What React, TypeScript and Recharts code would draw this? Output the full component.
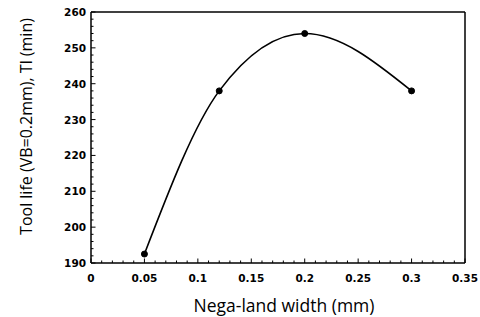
import React from 'react';
import { LineChart, Line, XAxis, YAxis, ReferenceLine } from 'recharts';

const negaLandWidth = [0.05, 0.12, 0.2, 0.3];
const toolLife = [192.5, 238, 254, 238];
const xTicks = [0, 0.05, 0.1, 0.15, 0.2, 0.25, 0.3, 0.35];
const yTicks = [190, 200, 210, 220, 230, 240, 250, 260];
const xMinorTicks = Array.from({ length: 36 }, (_, i) => i / 100);
const yMinorTicks = Array.from({ length: 36 }, (_, i) => 190 + i * 2);

const xTitle = 'Nega-land width (mm)';
const yTitle = 'Tool life (VB=0.2mm), Tl (min)';

const data = negaLandWidth.map((x, i) => ({ x, y: toolLife[i] }));

const TICK_FONT = '"DejaVu Sans", sans-serif';
const TITLE_FONT = '"Open Sans", "DejaVu Sans", sans-serif';

const isMajorX = (v: number) => xTicks.some((t) => Math.abs(t - v) < 1e-9);
const isMajorY = (v: number) => yTicks.some((t) => Math.abs(t - v) < 1e-9);
const fmtX = (v: number) => (v === 0 ? '0' : String(Math.round(v * 100) / 100));

const XTick = (props: any) => {
  const { x, y, payload } = props;
  const v = payload.value;
  const major = isMajorX(v);
  return (
    <g>
      <line x1={x} x2={x} y1={y} y2={y - (major ? 4.5 : 2.5)} stroke="#000" strokeWidth={1} />
      {major && (
        <text
          x={x}
          y={y + 19}
          textAnchor="middle"
          fill="#000"
          fontSize={10.5}
          fontWeight={700}
          fontFamily={TICK_FONT}
        >
          {fmtX(v)}
        </text>
      )}
    </g>
  );
};

const YTick = (props: any) => {
  const { x, y, payload } = props;
  const v = payload.value;
  const major = isMajorY(v);
  return (
    <g>
      <line x1={x} x2={x + (major ? 4.5 : 2.5)} y1={y} y2={y} stroke="#000" strokeWidth={1} />
      {major && (
        <text
          x={x - 5}
          y={y + 4}
          textAnchor="end"
          fill="#000"
          fontSize={10.5}
          fontWeight={700}
          fontFamily={TICK_FONT}
        >
          {String(v)}
        </text>
      )}
    </g>
  );
};

const XTitle = (props: any) => {
  const vb = props.viewBox || { x: 0, y: 0, width: 0, height: 0 };
  return (
    <text
      x={vb.x + vb.width / 2 + 6}
      y={vb.y + 48.5}
      textAnchor="middle"
      fill="#000"
      fontSize={17.5}
      fontFamily={TITLE_FONT}
    >
      {xTitle}
    </text>
  );
};

const YTitle = (props: any) => {
  const vb = props.viewBox || { x: 0, y: 0, width: 0, height: 0 };
  const cx = vb.x + 26;
  const cy = vb.y + vb.height / 2 - 11;
  return (
    <text
      x={cx}
      y={cy}
      transform={`rotate(-90 ${cx} ${cy})`}
      textAnchor="middle"
      dominantBaseline="central"
      fill="#000"
      fontSize={16}
      fontFamily={TITLE_FONT}
    >
      {yTitle}
    </text>
  );
};

export default function App() {
  return (
    <div style={{ position: 'absolute', left: 0, top: 0, background: '#fff' }}>
      <LineChart
        width={480}
        height={317}
        data={data}
        margin={{ top: 12, right: 15, left: 0, bottom: 0 }}
      >
        <XAxis
          dataKey="x"
          type="number"
          domain={[0, 0.35]}
          ticks={xMinorTicks}
          interval={0}
          height={54}
          tickLine={false}
          tickSize={0}
          tickMargin={0}
          axisLine={{ stroke: '#000', strokeWidth: 1.5 }}
          tick={<XTick />}
          label={{ content: XTitle }}
        />
        <YAxis
          type="number"
          domain={[190, 260]}
          ticks={yMinorTicks}
          interval={0}
          width={91}
          tickLine={false}
          tickSize={0}
          tickMargin={0}
          axisLine={{ stroke: '#000', strokeWidth: 1.5 }}
          tick={<YTick />}
          label={{ content: YTitle }}
        />
        <ReferenceLine x={0.35} stroke="#000" strokeWidth={1.5} />
        <ReferenceLine y={260} stroke="#000" strokeWidth={1.5} />
        <Line
          dataKey="y"
          type="monotoneX"
          stroke="#000"
          strokeWidth={1.6}
          dot={{ r: 3, fill: '#000', stroke: '#000', strokeWidth: 1 }}
          isAnimationActive={false}
        />
      </LineChart>
    </div>
  );
}
